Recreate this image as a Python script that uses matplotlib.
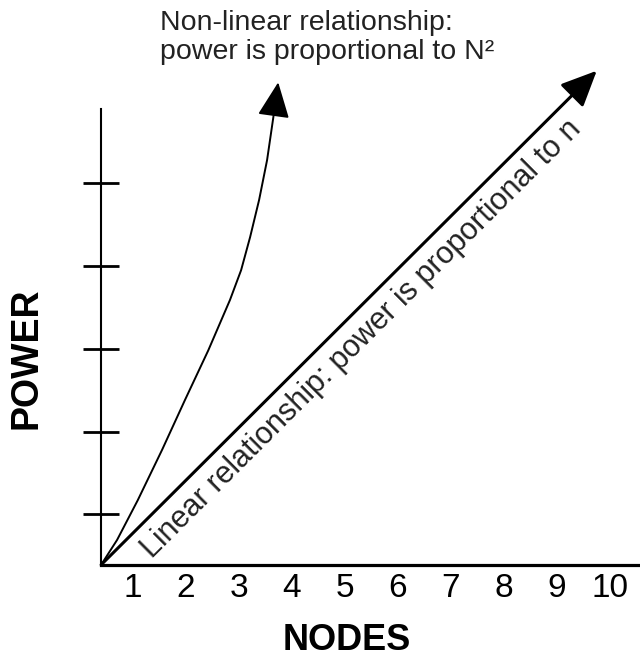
import numpy as np
import matplotlib
matplotlib.use('Agg')
import matplotlib.pyplot as plt

plt.rcParams['font.family'] = ['Liberation Sans', 'DejaVu Sans']

# axis origin (where the two axis lines meet), in data units
x0, y0 = 0.40, 0.39

# node counts shown on the x axis
nodes = [1, 2, 3, 4, 5, 6, 7, 8, 9, 10]
power_ticks = [1, 2, 3, 4, 5]

# non-linear curve (power ~ N^2)
curve_x = [0.40, 0.70, 1.09, 1.55, 1.98, 2.42, 2.83, 3.04, 3.21, 3.38, 3.53, 3.66, 3.74]
curve_y = [0.39, 0.69, 1.17, 1.78, 2.38, 2.98, 3.59, 3.95, 4.35, 4.80, 5.28, 5.85, 6.22]

# linear relationship (power ~ n)
lin_x = [0.40, 9.75]
lin_y = [0.39, 6.36]

fig = plt.figure(figsize=(6.4, 6.6), dpi=100)
ax = fig.add_axes([0, 0, 1, 1])
ax.set_xlim(-1.509, 10.566)
ax.set_ylim(-0.761, 7.215)

for s in ['top', 'right']:
    ax.spines[s].set_visible(False)
ax.spines['left'].set_position(('data', x0))
ax.spines['left'].set_bounds(y0, 5.90)
ax.spines['left'].set_linewidth(1.5)
ax.spines['bottom'].set_position(('data', y0))
ax.spines['bottom'].set_bounds(x0, 10.6)
ax.spines['bottom'].set_linewidth(2.3)

ax.set_yticks(power_ticks)
ax.set_yticklabels([])
ax.tick_params(axis='y', direction='inout', length=26, width=2)
ax.set_xticks(nodes)
ax.set_xticklabels([str(n) for n in nodes], fontsize=24)
ax.tick_params(axis='x', length=0, pad=6)

# curve with arrow head at its end
ax.plot(curve_x[:-1], curve_y[:-1], color='black', lw=1.4, solid_capstyle='round')
ax.annotate('', xy=(curve_x[-1], curve_y[-1]), xytext=(curve_x[-2], curve_y[-2]),
            arrowprops=dict(arrowstyle='-|>,head_length=1.1,head_width=0.5',
                            mutation_scale=20, color='black', lw=1.4,
                            shrinkA=0, shrinkB=0))

# straight line with arrow head
ax.annotate('', xy=(lin_x[1], lin_y[1]), xytext=(lin_x[0], lin_y[0]),
            arrowprops=dict(arrowstyle='-|>,head_length=1.1,head_width=0.5',
                            mutation_scale=20, color='black', lw=2.2,
                            shrinkA=0, shrinkB=0))

# angle of the linear line on screen
p = ax.transData.transform(np.column_stack([lin_x, lin_y]))
ang = np.degrees(np.arctan2(p[1, 1] - p[0, 1], p[1, 0] - p[0, 0]))

ax.text(1.358, 0.459, 'Linear relationship: power is proportional to n',
        fontsize=22, rotation=ang, rotation_mode='anchor',
        ha='left', va='baseline', color='#222222')

ax.text(1.51, 7.10, 'Non-linear relationship:\npower is proportional to N²',
        fontsize=20.5, ha='left', va='top', linespacing=1.15, color='#222222')

ax.text(-1.0, 2.88, 'POWER', fontsize=27, fontweight='bold', rotation=90,
        ha='center', va='center')
ax.text(5.04, -0.52, 'NODES', fontsize=26, fontweight='bold',
        ha='center', va='center')

fig.savefig('out.png', dpi=100)
